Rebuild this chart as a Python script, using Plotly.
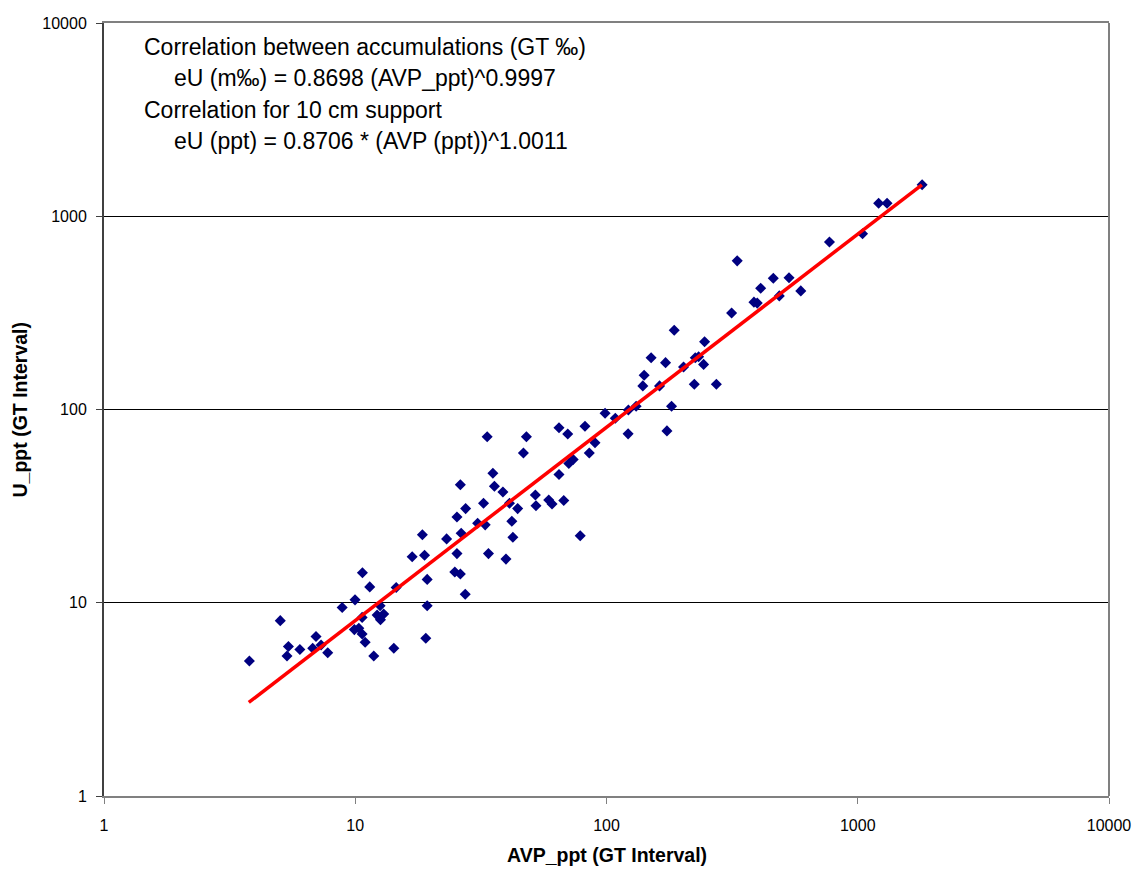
import plotly.graph_objects as go

# AVP_ppt (GT Interval) values of the samples
avp_ppt = [
    3.79, 5.03, 5.42, 5.35, 6.02, 6.98, 6.77, 7.31, 7.77, 8.87,
    9.98, 10.68, 11.42, 10.65, 9.92, 10.33, 10.65, 10.95, 11.85, 12.56,
    12.22, 12.98, 12.60, 14.24, 14.55, 16.85, 18.87, 19.33, 19.33, 19.09,
    33.5, 48.0, 64.7, 70.1, 46.7, 35.3, 26.2, 35.8, 38.7, 32.4,
    27.5, 25.4, 41.1, 44.3, 52.1, 52.4, 58.9, 60.7, 67.6, 64.7,
    70.8, 73.7, 30.7, 32.9, 42.0, 42.4, 26.4, 23.1, 18.5, 25.4,
    33.9, 39.8, 24.9, 26.2, 27.4, 78.6,
    186.0, 245.7, 150.5, 171.8, 202.6, 225.6, 232.6, 243.5, 141.2, 139.5,
    162.6, 223.6, 273.7, 181.5, 131.2, 122.2, 108.4, 98.7, 121.9, 174.0,
    82.1, 90.0, 85.4,
    1804, 1211, 1308, 1045, 771.6, 331.3, 461.2, 532.6, 410.8, 487.3,
    593.3, 386.2, 398.1, 314.7,
]

# U_ppt (GT Interval) values of the samples
u_ppt = [
    4.99, 8.08, 5.94, 5.30, 5.73, 6.69, 5.82, 6.05, 5.51, 9.45,
    10.35, 14.30, 12.08, 8.40, 7.26, 7.38, 6.89, 6.25, 5.30, 9.65,
    8.63, 8.74, 8.17, 5.82, 11.98, 17.28, 17.63, 13.21, 9.65, 6.55,
    72.2, 72.2, 80.4, 74.6, 59.6, 46.8, 40.8, 40.1, 37.4, 32.7,
    30.7, 27.8, 32.7, 30.7, 36.1, 31.8, 34.0, 32.4, 33.8, 46.1,
    52.5, 55.1, 25.8, 25.3, 26.4, 21.8, 22.9, 21.4, 22.5, 17.96,
    17.96, 16.82, 14.42, 14.08, 11.07, 22.2,
    256.9, 224.0, 185.4, 174.8, 165.9, 185.4, 187.6, 171.2, 150.4, 132.5,
    132.5, 135.2, 135.2, 103.9, 103.9, 99.4, 90.1, 95.6, 74.8, 77.5,
    81.9, 67.3, 59.6,
    1455, 1167, 1167, 812.6, 735.9, 587.7, 477.2, 480.7, 424.2, 387.1,
    410.9, 359.4, 355.2, 315.6,
]

# Fitted power-law trend line (end points)
fit_x = [3.77, 1800]
fit_y = [3.05, 1455]

tick_vals = [1, 10, 100, 1000, 10000]
tick_text = ["1", "10", "100", "1000", "10000"]

notes = [
    "Correlation between accumulations (GT \u2030)",
    "eU (m\u2030) = 0.8698 (AVP_ppt)^0.9997",
    "Correlation for 10 cm support",
    "eU (ppt) = 0.8706 * (AVP (ppt))^1.0011",
]
note_x = [0.0378, 0.0676, 0.0378, 0.0676]
note_y = [0.9693, 0.9283, 0.8873, 0.8476]

x_title = "AVP_ppt (GT Interval)"
y_title = "U_ppt (GT Interval)"

FONT = "Liberation Sans, Arial, sans-serif"

fig = go.Figure()
fig.add_trace(go.Scatter(
    x=avp_ppt, y=u_ppt, mode="markers",
    marker=dict(symbol="diamond", size=8.5, color="#000080", line=dict(width=0)),
    showlegend=False, hoverinfo="x+y",
))
fig.add_trace(go.Scatter(
    x=fit_x, y=fit_y, mode="lines",
    line=dict(color="#FF0000", width=3.5),
    showlegend=False,
))

annotations = []
for t, xx, yy in zip(notes, note_x, note_y):
    annotations.append(dict(
        text=t, x=xx, y=yy, xref="paper", yref="paper",
        xanchor="left", yanchor="middle", showarrow=False,
        font=dict(family=FONT, size=23, color="#000000"),
    ))
annotations.append(dict(
    text="<b>" + x_title + "</b>", x=0.5, y=-0.0768, xref="paper", yref="paper",
    xanchor="center", yanchor="middle", showarrow=False,
    font=dict(family=FONT, size=19.5, color="#000000"),
))
annotations.append(dict(
    text="<b>" + y_title + "</b>", x=-0.0836, y=0.5, xref="paper", yref="paper",
    xanchor="center", yanchor="middle", showarrow=False, textangle=-90,
    font=dict(family=FONT, size=19.5, color="#000000"),
))

# The page body adds an 8 px margin, so the figure is sized to end at the window edge.
fig.update_layout(
    width=1132, height=863,
    margin=dict(l=96, r=31, t=7, b=75, pad=0),
    paper_bgcolor="white", plot_bgcolor="white",
    font=dict(family=FONT, size=16, color="#000000"),
    annotations=annotations,
    shapes=[dict(type="line", xref="paper", yref="paper", x0=1, x1=1, y0=0, y1=1,
                 line=dict(color="#808080", width=2))],
)
fig.update_xaxes(
    type="log", range=[0, 4], tickvals=tick_vals, ticktext=tick_text,
    showgrid=False, zeroline=False,
    showline=True, mirror=True, linecolor="#808080", linewidth=2,
    ticks="outside", ticklen=6, tickcolor="#808080", tickwidth=1,
    ticklabelstandoff=8,
    tickfont=dict(family=FONT, size=16, color="#000000"),
)
fig.update_yaxes(
    type="log", range=[0, 4], tickvals=tick_vals, ticktext=tick_text,
    showgrid=True, gridcolor="#000000", gridwidth=1, zeroline=False,
    showline=True, mirror=False, linecolor="#404040", linewidth=2,
    ticks="outside", ticklen=6, tickcolor="#404040", tickwidth=1,
    ticklabelstandoff=6,
    tickfont=dict(family=FONT, size=16, color="#000000"),
)

fig.write_html("out.html")
